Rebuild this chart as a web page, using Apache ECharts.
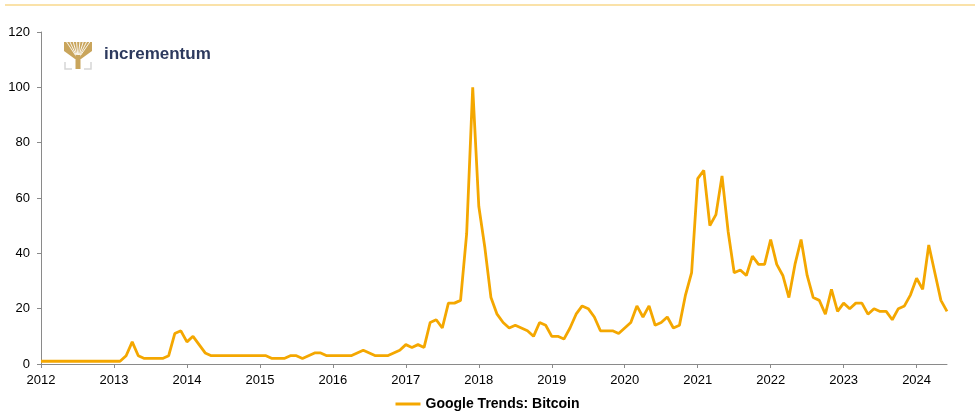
<!DOCTYPE html>
<html>
<head>
<meta charset="utf-8">
<script src="https://cdn.jsdelivr.net/npm/echarts@6/dist/echarts.min.js"></script>
<style>html,body{margin:0;padding:0;background:#fff;}#c{width:975px;height:420px;}</style>
</head>
<body>
<div id="c"></div>
<script>
const years = ['2012','2013','2014','2015','2016','2017','2018','2019','2020','2021','2022','2023','2024'];
const v2012 = [1,1,1,1,1,1,1,1,1,1,1,1];
const v2013 = [1,1,3,8,3,2,2,2,2,3,11,12];
const v2014 = [8,10,7,4,3,3,3,3,3,3,3,3];
const v2015 = [3,3,2,2,2,3,3,2,3,4,4,3];
const v2016 = [3,3,3,3,4,5,4,3,3,3,4,5];
const v2017 = [7,6,7,6,15,16,13,22,22,23,47,100];
const v2018 = [57,42,24,18,15,13,14,13,12,10,15,14];
const v2019 = [10,10,9,13,18,21,20,17,12,12,12,11];
const v2020 = [13,15,21,17,21,14,15,17,13,14,25,33];
const v2021 = [67,70,50,54,68,48,33,34,32,39,36,36];
const v2022 = [45,36,32,24,36,45,32,24,23,18,27,19];
const v2023 = [22,20,22,22,18,20,19,19,16,20,21,25];
const v2024 = [31,27,43,33,23,19];
const seriesName = 'Google Trends: Bitcoin';

const yearly = [v2012,v2013,v2014,v2015,v2016,v2017,v2018,v2019,v2020,v2021,v2022,v2023,v2024];
const cats = [];
const vals = [];
yearly.forEach((arr, yi) => {
  arr.forEach((v, mi) => {
    cats.push(years[yi] + '-' + String(mi + 1).padStart(2, '0'));
    vals.push(v);
  });
});

const chart = echarts.init(document.getElementById('c'), null, {renderer: 'canvas'});
const gold = '#C9A55C';
const gaps = [];
[66, 69.5, 73, 76.5, 80, 83.5, 87, 90.5].forEach((x) => {
  gaps.push({type: 'line', shape: {x1: 78, y1: 59, x2: x, y2: 41}, style: {stroke: '#fff', lineWidth: 0.9}});
});
const option = {
  animation: false,
  backgroundColor: '#fff',
  textStyle: {fontFamily: 'Liberation Sans, Arial, sans-serif'},
  grid: {left: 41, right: 28, top: 32, bottom: 56, containLabel: false},
  xAxis: {
    type: 'category',
    data: cats,
    boundaryGap: false,
    axisLine: {lineStyle: {color: '#8a8a8a', width: 1}},
    axisTick: {show: true, length: 4, interval: (i) => i % 12 === 0, lineStyle: {color: '#8a8a8a'}},
    axisLabel: {
      interval: (i) => i % 12 === 0,
      formatter: (v) => v.slice(0, 4),
      color: '#000', fontSize: 13, margin: 10
    },
    splitLine: {show: false}
  },
  yAxis: {
    type: 'value',
    min: 0, max: 120, interval: 20,
    axisLine: {show: true, lineStyle: {color: '#8a8a8a', width: 1}},
    axisTick: {show: true, length: 4, inside: false, lineStyle: {color: '#8a8a8a'}},
    axisLabel: {color: '#000', fontSize: 13, margin: 11},
    splitLine: {show: false}
  },
  legend: {
    bottom: 4, left: 'center',
    itemWidth: 25, itemHeight: 3, itemGap: 10,
    icon: 'rect',
    textStyle: {fontSize: 14, fontWeight: 'bold', color: '#000'},
    data: [seriesName]
  },
  graphic: [
    {type: 'line', shape: {x1: 5, y1: 5, x2: 975, y2: 5}, style: {stroke: '#F8D88C', lineWidth: 1.5}},
    {type: 'group', children: [
      {type: 'polygon', shape: {points: [[64,42],[92,42],[92,51],[81,59],[75,59],[64,51]]}, style: {fill: gold}},
      ...gaps,
      {type: 'rect', shape: {x: 75.5, y: 55, width: 5, height: 14}, style: {fill: gold}},
      {type: 'polyline', shape: {points: [[65,62],[65,69],[72,69]]}, style: {stroke: '#d6d6d6', lineWidth: 1.5, fill: null}},
      {type: 'polyline', shape: {points: [[91,62],[91,69],[84,69]]}, style: {stroke: '#d6d6d6', lineWidth: 1.5, fill: null}}
    ]},
    {type: 'text', left: 104, top: 46, style: {text: 'incrementum', fill: '#2d3a5e', font: 'bold 17px "Liberation Sans", Arial, sans-serif'}}
  ],
  series: [{
    name: seriesName,
    type: 'line',
    data: vals,
    symbol: 'none',
    smooth: false,
    lineStyle: {color: '#F4A700', width: 2.8},
    itemStyle: {color: '#F4A700'}
  }]
};
chart.setOption(option);
</script>
</body>
</html>
